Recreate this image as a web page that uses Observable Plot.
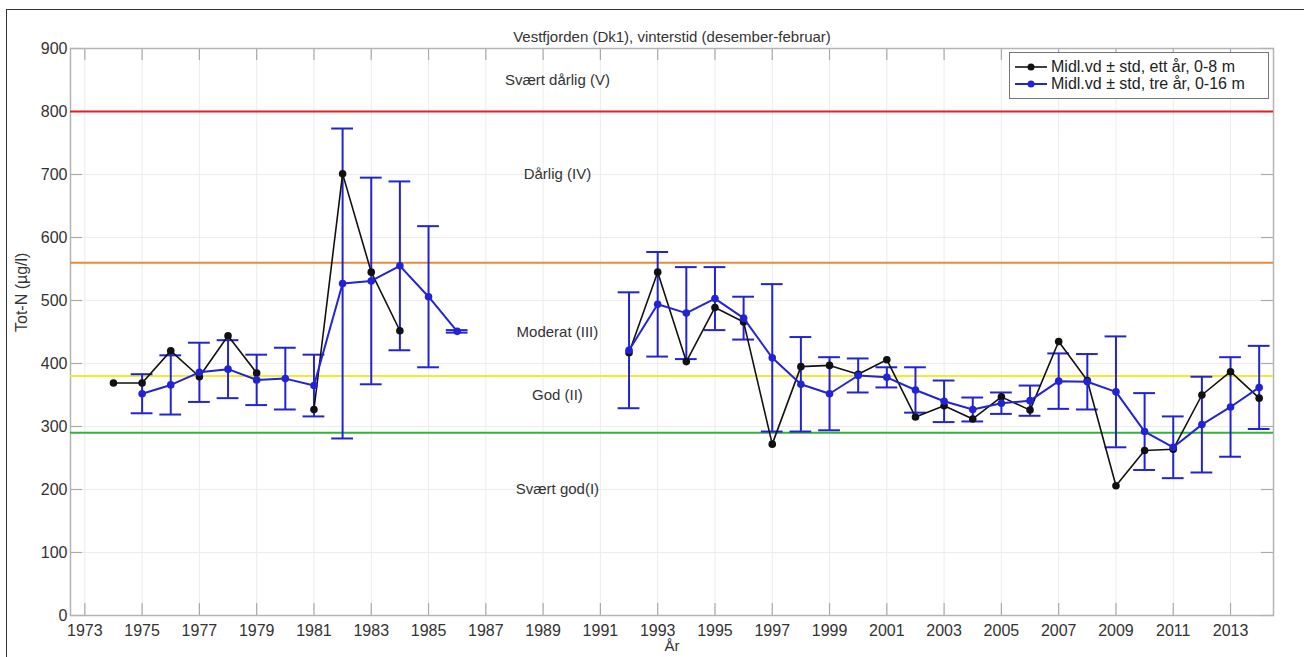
<!DOCTYPE html>
<html>
<head>
<meta charset="utf-8">
<script src="https://cdn.jsdelivr.net/npm/d3@7"></script>
<script src="https://cdn.jsdelivr.net/npm/@observablehq/plot@0.6"></script>
<style>
  html, body { margin: 0; padding: 0; background: #fff; }
  #wrap { position: relative; width: 1304px; height: 657px; overflow: hidden; font-family: "Liberation Sans", Arial, Helvetica, sans-serif; }
  #border { position: absolute; left: 6px; top: 9px; right: -2px; bottom: -2px; border-left: 1.5px solid #333; border-top: 1.5px solid #333; pointer-events: none; }
  #legend { position: absolute; left: 1009px; top: 52px; width: 258px; height: 45px; border: 1px solid #777; background: #fff; font-size: 16px; color: #222; }
  #legend .row { position: absolute; left: 4px; height: 17px; display: flex; align-items: center; white-space: nowrap; }
  #legend svg { margin-right: 3px; }
</style>
</head>
<body>
<div id="wrap">
  <div id="chart"></div>
  <div id="border"></div>
  <div id="legend"></div>
</div>
<script>
// ---- data ----
const years = d3.range(1974, 2015);
const etterAar = [ // black: ett år, 0-8 m (null = no data)
  369, 369, 420, 379, 444, 385, null, 327, 701, 545, 452,
  null, null, null, null, null, null, null,
  417, 545, 403, 489, 466, 272, 395, 397, 383, 406,
  315, 333, 312, 347, 326, 435, 373, 206, 262, 264, 350, 387, 345
];
const treAar = [ // blue: tre år, 0-16 m
  null, 352, 366, 386, 391, 374, 376, 365, 527, 531, 555, 506, 451,
  null, null, null, null, null,
  421, 494, 480, 503, 472, 409, 367, 352, 381, 378,
  358, 340, 327, 337, 341, 372, 371, 355, 292, 267, 303, 331, 362
];
const treAarStd = [
  null, 31, 47, 47, 46, 40, 49, 49, 246, 164, 134, 112, 2,
  null, null, null, null, null,
  92, 83, 73, 50, 34, 117, 75, 58, 27, 16,
  36, 33, 19, 17, 24, 44, 44, 88, 61, 49, 76, 79, 66
];
const xTicks = d3.range(1973, 2014, 2);
const yTicks = d3.range(0, 901, 100);
const classLimits = [800, 560, 380, 290];
const classColors = ["#e61e24", "#ea8a3c", "#f0ee2c", "#2fb43a"];
const classNames = ["Svært dårlig (V)", "Dårlig (IV)", "Moderat (III)", "God (II)", "Svært god(I)"];
const classLabelY = [850, 700, 450, 350, 200];
const classLabelX = 1989.5;
const seriesNames = ["Midl.vd ± std, ett år, 0-8 m", "Midl.vd ± std, tre år, 0-16 m"];
const seriesColors = ["#111111", "#2323d6"];
const title = "Vestfjorden (Dk1), vinterstid (desember-februar)";
const xLabel = "År";
const yLabel = "Tot-N (µg/l)";

// ---- tables ----
const black = years.map((y, i) => ({year: y, v: etterAar[i]}));
const blue = years.map((y, i) => ({year: y, v: treAar[i], s: treAarStd[i]}));
const blueBars = blue.filter(d => d.v != null);
const classes = classLimits.map((v, i) => ({v, c: classColors[i]}));
const labels = classNames.map((t, i) => ({t, y: classLabelY[i]}));

const W = 1304, H = 657;
const mL = 70, mR = 31, mT = 48, mB = 42;
const fw = W - mL - mR, fh = H - mT - mB;
const tickLen = 12;
const cap = 0.38;

const chart = Plot.plot({
  width: W, height: H,
  marginLeft: mL, marginRight: mR, marginTop: mT, marginBottom: mB,
  style: {fontFamily: '"Liberation Sans", Arial, Helvetica, sans-serif', fontSize: "16px", color: "#333", background: "#fff"},
  x: {domain: [1972.5, 2014.5], axis: null},
  y: {domain: [0, 900], axis: null},
  marks: [
    Plot.gridX(xTicks, {stroke: "#ececec", strokeOpacity: 1}),
    Plot.gridY(yTicks, {stroke: "#ececec", strokeOpacity: 1}),
    Plot.tickX(xTicks, {x: d => d, insetTop: fh - tickLen, stroke: "#aaa", strokeWidth: 1.2}),
    Plot.tickX(xTicks, {x: d => d, insetBottom: fh - tickLen, stroke: "#aaa", strokeWidth: 1.2}),
    Plot.tickY(yTicks, {y: d => d, insetRight: fw - tickLen, stroke: "#aaa", strokeWidth: 1.2}),
    Plot.tickY(yTicks, {y: d => d, insetLeft: fw - tickLen, stroke: "#aaa", strokeWidth: 1.2}),
    Plot.axisX(xTicks, {tickFormat: d => String(d), tickSize: 0, tickPadding: 9, label: null, fill: "#333"}),
    Plot.axisY(yTicks, {tickSize: 0, tickPadding: 3, label: null, fill: "#333"}),
    Plot.frame({stroke: "#b4b4b4", strokeWidth: 1.5}),
    Plot.ruleY(classes, {y: "v", stroke: "c", strokeWidth: 2}),
    Plot.text(labels, {x: () => classLabelX, y: "y", text: "t", fill: "#333", fontSize: 15}),
    // blue error bars
    Plot.ruleX(blueBars, {x: "year", y1: d => d.v - d.s, y2: d => d.v + d.s, stroke: seriesColors[1], strokeWidth: 2}),
    Plot.ruleY(blueBars, {y: d => d.v + d.s, x1: d => d.year - cap, x2: d => d.year + cap, stroke: seriesColors[1], strokeWidth: 2}),
    Plot.ruleY(blueBars, {y: d => d.v - d.s, x1: d => d.year - cap, x2: d => d.year + cap, stroke: seriesColors[1], strokeWidth: 2}),
    // black series
    Plot.line(black, {x: "year", y: "v", stroke: seriesColors[0], strokeWidth: 1.6}),
    Plot.dot(black.filter(d => d.v != null), {x: "year", y: "v", r: 3.8, fill: seriesColors[0]}),
    // blue series
    Plot.line(blue, {x: "year", y: "v", stroke: seriesColors[1], strokeWidth: 2}),
    Plot.dot(blueBars, {x: "year", y: "v", r: 3.8, fill: seriesColors[1]}),
    // texts
    Plot.text([title], {frameAnchor: "top", dy: -17, text: d => d, fill: "#333", fontSize: 15}),
    Plot.text([xLabel], {frameAnchor: "bottom", dy: 35, text: d => d, fill: "#333", fontSize: 15}),
    Plot.text([yLabel], {frameAnchor: "left", dx: -49, rotate: -90, text: d => d, fill: "#333", fontSize: 16})
  ]
});
document.getElementById("chart").appendChild(chart);

// legend
const leg = document.getElementById("legend");
seriesNames.forEach((name, i) => {
  const row = document.createElement("div");
  row.className = "row";
  row.style.top = (5 + i * 17) + "px";
  const svg = d3.create("svg").attr("width", 34).attr("height", 10);
  svg.append("line").attr("x1", 1).attr("x2", 33).attr("y1", 5).attr("y2", 5)
    .attr("stroke", seriesColors[i]).attr("stroke-width", i ? 2 : 1.6);
  svg.append("circle").attr("cx", 17).attr("cy", 5).attr("r", 3.5).attr("fill", seriesColors[i]);
  row.appendChild(svg.node());
  const span = document.createElement("span");
  span.textContent = name;
  row.appendChild(span);
  leg.appendChild(row);
});
</script>
</body>
</html>
